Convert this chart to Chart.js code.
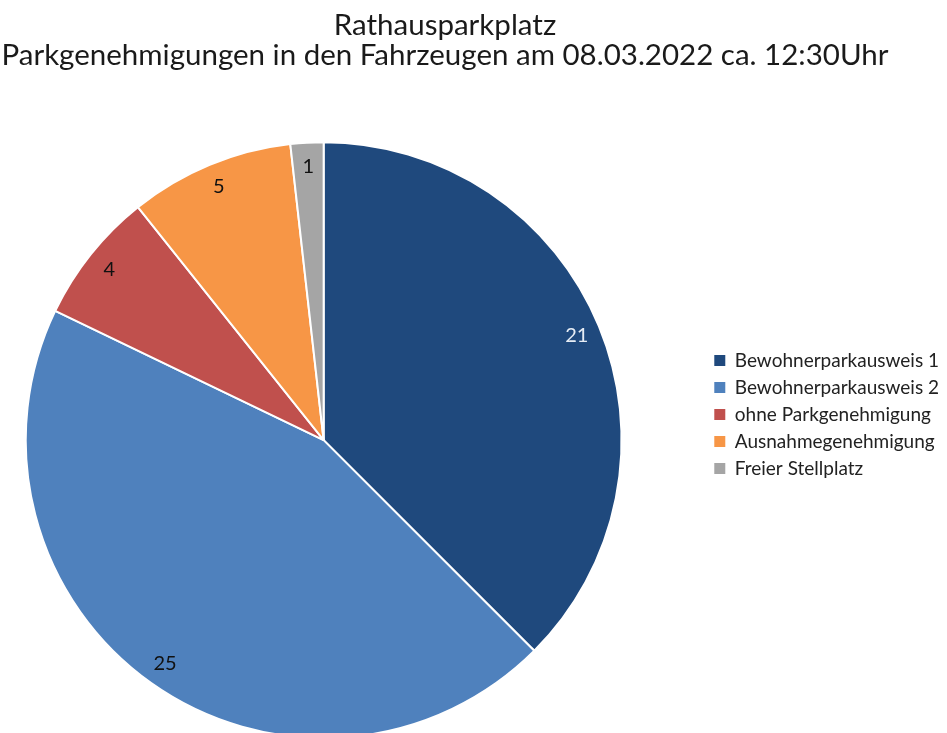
<!DOCTYPE html>
<html>
<head>
<meta charset="utf-8">
<title>Rathausparkplatz</title>
<script src="https://cdn.jsdelivr.net/npm/chart.js@4/dist/chart.umd.min.js"></script>
<style>
  html, body { margin: 0; padding: 0; background: #fff; overflow: hidden; width: 947px; height: 733px; }
  #wrap { position: relative; width: 947px; height: 733px; overflow: hidden; }
  #pie { position: absolute; left: -59px; top: 0; }
</style>
</head>
<body>
<div id="wrap">
  <canvas id="pie" width="1008" height="739"></canvas>
</div>
<script>
// data
var categories = ['Bewohnerparkausweis 1', 'Bewohnerparkausweis 2', 'ohne Parkgenehmigung', 'Ausnahmegenehmigung', 'Freier Stellplatz'];
var values = [21, 25, 4, 5, 1];
var colors = ['#1f497d', '#4f81bd', '#c0504d', '#f79646', '#a5a5a5'];
var labelColors = ['#e6ecf4', '#111111', '#111111', '#111111', '#111111'];
var titleLines = ['Rathausparkplatz', 'Parkgenehmigungen in den Fahrzeugen am 08.03.2022 ca. 12:30Uhr'];

var FONT = 'Lato';

// numbers inside the slices, near the rim
var sliceLabels = {
  id: 'sliceLabels',
  afterDatasetsDraw: function (chart) {
    var ctx = chart.ctx;
    var meta = chart.getDatasetMeta(0);
    ctx.save();
    ctx.font = '20px ' + FONT;
    ctx.textAlign = 'center';
    ctx.textBaseline = 'middle';
    meta.data.forEach(function (arc, i) {
      var p = arc.getProps(['x', 'y', 'startAngle', 'endAngle', 'outerRadius'], true);
      var mid = (p.startAngle + p.endAngle) / 2;
      var r = p.outerRadius * 0.92;
      ctx.fillStyle = labelColors[i];
      ctx.fillText(String(values[i]), p.x + Math.cos(mid) * r, p.y + Math.sin(mid) * r);
    });
    ctx.restore();
  }
};

var ctx = document.getElementById('pie').getContext('2d');
var myChart = new Chart(ctx, {
  type: 'pie',
  data: {
    labels: categories,
    datasets: [{
      data: values,
      backgroundColor: colors,
      borderColor: '#ffffff',
      borderWidth: 2
    }]
  },
  options: {
    responsive: false,
    animation: false,
    devicePixelRatio: 1,
    layout: { padding: 0 },
    plugins: {
      title: {
        display: true,
        text: titleLines,
        color: '#1a1a1a',
        font: { family: FONT, size: 29.5, weight: 'normal', lineHeight: 1.02 },
        padding: { top: 10, bottom: 71 }
      },
      legend: {
        position: 'right',
        align: 'start',
        // empty title only pushes the items down next to the pie centre
        title: {
          display: true,
          text: ' ',
          font: { family: FONT, size: 10, lineHeight: 1 },
          padding: { top: 333, bottom: 0 }
        },
        labels: {
          color: '#222222',
          font: { family: FONT, size: 19 },
          boxWidth: 11,
          boxHeight: 11,
          padding: 8,
          generateLabels: function (chart) {
            var items = Chart.overrides.pie.plugins.legend.labels.generateLabels(chart);
            items.forEach(function (it) { it.lineWidth = 0; it.strokeStyle = it.fillStyle; });
            return items;
          }
        }
      },
      tooltip: { enabled: false }
    }
  },
  plugins: [sliceLabels]
});
</script>
</body>
</html>
